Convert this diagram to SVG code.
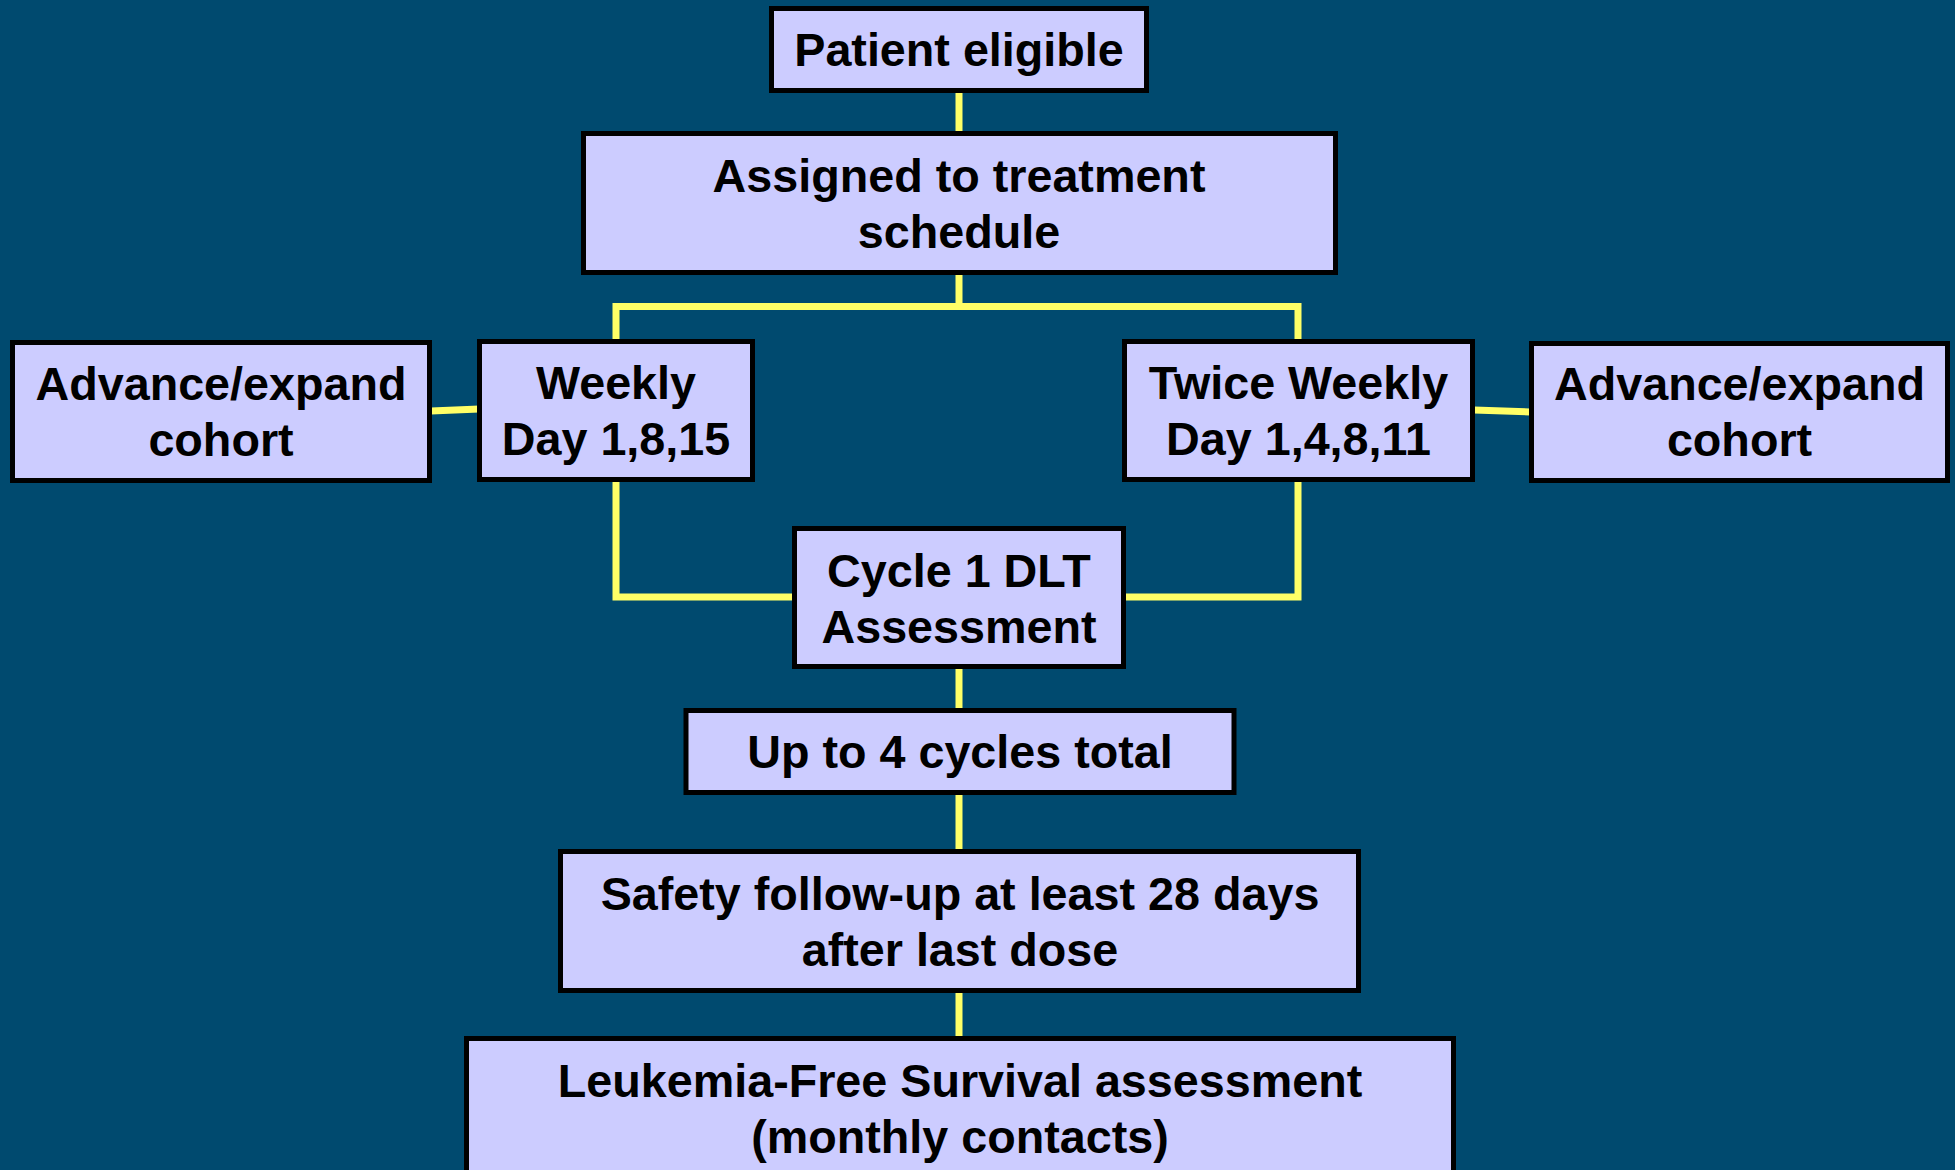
<svg xmlns="http://www.w3.org/2000/svg" width="1955" height="1170" viewBox="0 0 1955 1170">
<style>
.box{fill:#CCCCFF;stroke:#000;stroke-width:5}
.t{font-family:"Liberation Sans",Arial,sans-serif;font-weight:bold;font-size:46.7px;fill:#000;text-anchor:middle}
.c{fill:none;stroke:#FFFF66;stroke-width:7}
</style>
<rect x="0" y="0" width="1955" height="1170" fill="#004A6F"/>
<g id="connectors">
<line class="c" x1="959" y1="92" x2="959" y2="134"/>
<polyline class="c" points="959,274 959,306.5"/>
<polyline class="c" points="616,341 616,306.5 1298,306.5 1298,341"/>
<line class="c" x1="431" y1="411" x2="479" y2="409"/>
<line class="c" x1="1474" y1="410" x2="1530" y2="412"/>
<polyline class="c" points="616,481 616,597 794,597"/>
<polyline class="c" points="1298,481 1298,597 1124,597"/>
<line class="c" x1="959" y1="668" x2="959" y2="711"/>
<line class="c" x1="959" y1="794" x2="959" y2="852"/>
<line class="c" x1="959" y1="992" x2="959" y2="1039"/>
</g>
<g id="patient-eligible">
<rect class="box" x="771.5" y="8.5" width="375" height="82"/>
<text class="t" x="959" y="66">Patient eligible</text>
</g>
<g id="assigned">
<rect class="box" x="583.5" y="133.5" width="752" height="139"/>
<text class="t" x="959" y="192">Assigned to treatment</text>
<text class="t" x="959" y="248">schedule</text>
</g>
<g id="advance-left">
<rect class="box" x="12.5" y="342.5" width="417" height="138"/>
<text class="t" x="221" y="400">Advance/expand</text>
<text class="t" x="221" y="456">cohort</text>
</g>
<g id="weekly">
<rect class="box" x="479.5" y="341.5" width="273" height="138"/>
<text class="t" x="616" y="399">Weekly</text>
<text class="t" x="616" y="455">Day 1,8,15</text>
</g>
<g id="twice-weekly">
<rect class="box" x="1124.5" y="341.5" width="348" height="138"/>
<text class="t" x="1298.5" y="399">Twice Weekly</text>
<text class="t" x="1298.5" y="455">Day 1,4,8,11</text>
</g>
<g id="advance-right">
<rect class="box" x="1531.5" y="343.5" width="416" height="137"/>
<text class="t" x="1739.5" y="400">Advance/expand</text>
<text class="t" x="1739.5" y="456">cohort</text>
</g>
<g id="cycle1">
<rect class="box" x="794.5" y="528.5" width="329" height="138"/>
<text class="t" x="959" y="587">Cycle 1 DLT</text>
<text class="t" x="959" y="643">Assessment</text>
</g>
<g id="up-to-4">
<rect class="box" x="686" y="710.5" width="548" height="82"/>
<text class="t" x="960" y="768">Up to 4 cycles total</text>
</g>
<g id="safety">
<rect class="box" x="560.5" y="851.5" width="798" height="139"/>
<text class="t" x="960" y="910">Safety follow-up at least 28 days</text>
<text class="t" x="960" y="966">after last dose</text>
</g>
<g id="leukemia">
<rect class="box" x="466.5" y="1038.5" width="987" height="150"/>
<text class="t" x="960" y="1097">Leukemia-Free Survival assessment</text>
<text class="t" x="960" y="1153">(monthly contacts)</text>
</g>
</svg>
